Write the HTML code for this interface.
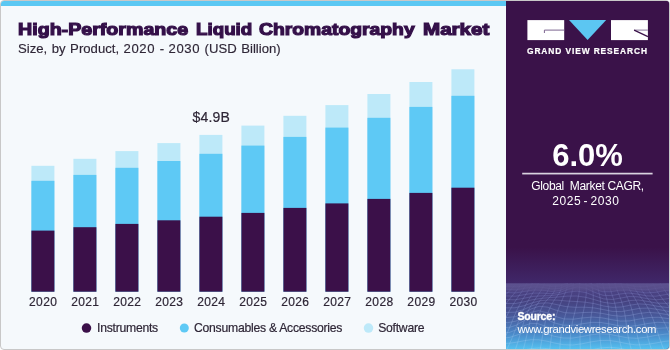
<!DOCTYPE html>
<html><head><meta charset="utf-8">
<style>
html,body{margin:0;padding:0;background:#fff;}
body{width:670px;height:350px;position:relative;overflow:hidden;font-family:"Liberation Sans",sans-serif;-webkit-font-smoothing:antialiased;}
.wrap{position:absolute;left:0;top:0;width:670px;height:350px;will-change:transform;}
.frame{position:absolute;left:0;top:0;width:668px;height:348px;border:1px solid #c8c8c8;border-radius:4px;background:#f5f9fc;overflow:hidden;}
.topbar{position:absolute;left:0;top:0;width:505px;height:5px;background:#5bc8f3;}
.title{position:absolute;left:16.8px;top:18.3px;font-weight:bold;font-size:17.4px;color:#341049;white-space:nowrap;transform-origin:0 0;transform:scaleX(1.1);-webkit-text-stroke:1.2px #341049;letter-spacing:0px;}
.sub{position:absolute;left:16.8px;top:40px;font-size:13.7px;transform:scaleX(0.96);word-spacing:0.9px;color:#2e2636;-webkit-text-stroke:0.15px #2e2636;white-space:nowrap;transform-origin:0 0;}
svg{position:absolute;left:-1px;top:-1px;}
.panel{position:absolute;left:505px;top:0;width:163px;height:348px;background:#3a1249;overflow:hidden;}
.gvr{position:absolute;left:21px;top:45px;font-weight:bold;font-size:8.4px;color:#fff;white-space:nowrap;letter-spacing:0.9px;-webkit-text-stroke:0.2px #fff;}
.big{position:absolute;left:0;width:163px;text-align:center;top:136.5px;font-weight:bold;font-size:31px;color:#fff;}
.hr{position:absolute;left:16px;top:172px;width:131px;height:2px;background:#d9d2df;}
.cagr{position:absolute;left:0;width:163px;text-align:center;top:178px;font-size:12px;line-height:14.6px;color:#fff;}
.c1{letter-spacing:-0.35px;}
.c2{letter-spacing:0.6px;word-spacing:-1.6px;position:relative;left:-1.6px;}
.src{position:absolute;left:11.5px;top:309.2px;font-size:11.3px;line-height:12.6px;color:#fff;white-space:nowrap;letter-spacing:-0.33px;}
.src b{font-size:10.5px;letter-spacing:-0.2px;-webkit-text-stroke:0.35px #fff;}
.ch text{stroke:#2e2636;stroke-width:0.2px;}
.dg{letter-spacing:0.6px;}
</style></head><body><div class="wrap">
<div class="frame">
<div class="topbar"></div>
<div class="title" style="left:16.9px;transform:scaleX(1.129)">High-Performance</div><div class="title" style="left:194.5px;transform:scaleX(1.079)">Liquid</div><div class="title" style="left:257.5px;transform:scaleX(1.111)">Chromatography</div><div class="title" style="left:421.5px;transform:scaleX(1.184)">Market</div>
<div class="sub">Size, by Product, <span class="dg">2020</span> - <span class="dg">2030</span> (USD Billion)</div>
<div class="panel">
<svg width="163" height="348" viewBox="506 1 163 348" style="position:absolute;left:0;top:0">
<defs>
<linearGradient id="pg" x1="0" y1="0" x2="0" y2="1"><stop offset="0" stop-color="#3a1249"/><stop offset="0.87" stop-color="#3a1249"/><stop offset="1" stop-color="#40286a"/></linearGradient>
<linearGradient id="gg" gradientUnits="userSpaceOnUse" x1="0" y1="283.5" x2="0" y2="349"><stop offset="0" stop-color="#554a86"/><stop offset="0.13" stop-color="#4a4283"/><stop offset="0.25" stop-color="#45407e"/><stop offset="0.5" stop-color="#48599a"/><stop offset="0.75" stop-color="#4a86c6"/><stop offset="1" stop-color="#54c0f0"/></linearGradient>
<clipPath id="gc"><rect x="506" y="283.2" width="163" height="67"/></clipPath>
<linearGradient id="lg" gradientUnits="userSpaceOnUse" x1="0" y1="283" x2="0" y2="349"><stop offset="0" stop-color="#8a8ad0" stop-opacity="0.28"/><stop offset="0.3" stop-color="#8a94d4" stop-opacity="0.45"/><stop offset="1" stop-color="#a8daf8" stop-opacity="0.42"/></linearGradient>
<linearGradient id="hb" x1="0" y1="0" x2="0" y2="1"><stop offset="0" stop-color="#5d5290" stop-opacity="0.95"/><stop offset="0.6" stop-color="#5a508c" stop-opacity="0.7"/><stop offset="1" stop-color="#5a508c" stop-opacity="0"/></linearGradient>
</defs>
<rect x="506" y="1" width="163" height="283" fill="url(#pg)"/>
<rect x="506" y="283.5" width="163" height="67" fill="url(#gg)"/>
<path clip-path="url(#gc)" d="M484.4 353.6L493.0 355.8L501.2 358.5L509.1 360.4L516.6 360.6L524.1 359.3L531.8 357.4L539.7 356.2L547.9 356.4L556.5 357.8L565.3 359.4L574.3 360.3L583.3 359.9L592.3 358.4L601.2 356.5L610.1 355.2L618.8 355.3L627.5 356.7L636.2 358.6L644.8 360.0L653.8 360.2L663.8 359.1L674.2 357.2L685.0 355.6L696.1 355.1 M484.8 347.5L493.5 348.6L501.8 350.0L509.5 350.9L516.9 350.9L524.2 349.9L531.5 348.6L539.1 348.0L547.2 348.6L555.6 350.2L564.4 351.8L573.4 352.4L582.5 351.6L591.6 349.8L600.6 348.0L609.5 347.3L618.4 348.1L627.2 349.9L635.9 351.6L644.7 352.3L654.1 351.6L664.4 349.8L674.9 348.1L685.8 347.3L697.1 348.1 M484.7 341.9L493.5 342.9L501.9 343.5L509.7 343.2L517.1 342.1L524.2 340.7L531.3 339.7L538.7 339.8L546.5 341.1L554.9 343.1L563.6 344.7L572.7 345.0L581.9 343.8L591.1 341.9L600.2 340.5L609.3 340.4L618.2 341.8L627.1 343.7L636.1 344.9L645.0 344.7L654.8 343.2L665.2 341.3L675.9 340.3L686.9 340.7L698.2 342.4 M484.2 335.9L493.1 337.3L501.6 338.2L509.6 337.4L517.0 335.0L524.1 332.5L531.1 331.1L538.3 331.6L546.0 333.7L554.3 336.3L563.2 338.0L572.3 338.1L581.6 336.6L591.0 334.8L600.2 333.8L609.4 334.3L618.4 336.1L627.5 337.8L636.5 338.3L645.6 337.3L655.8 335.4L666.2 334.0L677.0 334.0L688.0 335.4L699.3 337.3 M483.3 329.6L492.4 331.3L501.0 332.9L509.2 332.5L516.7 329.6L523.9 325.8L530.9 323.3L538.2 323.7L545.9 326.4L554.2 329.6L563.0 331.6L572.3 331.5L581.7 330.0L591.1 328.3L600.5 327.8L609.8 329.0L619.0 330.8L628.1 332.1L637.2 331.8L646.6 330.1L656.8 328.4L667.2 327.8L677.9 328.9L688.9 330.7L700.1 332.1 M482.3 323.4L491.4 325.1L500.1 327.3L508.5 327.7L516.3 325.2L523.7 320.8L530.9 317.1L538.3 316.5L546.0 319.2L554.4 322.9L563.3 325.2L572.6 325.3L582.1 323.8L591.7 322.4L601.1 322.5L610.4 324.1L619.7 325.9L628.8 326.5L637.9 325.4L647.5 323.5L657.6 322.3L668.0 322.8L678.6 324.5L689.4 326.1L700.5 326.4 M481.3 317.8L490.3 319.1L499.1 321.4L507.7 322.7L515.9 321.1L523.6 316.8L531.0 312.4L538.6 310.7L546.5 312.6L554.9 316.3L563.9 318.9L573.3 319.2L582.8 317.9L592.4 317.1L601.9 317.8L611.2 319.6L620.4 321.1L629.5 320.9L638.5 319.2L648.2 317.6L658.2 317.3L668.4 318.6L678.9 320.4L689.5 321.2L700.3 320.2 M480.3 312.7L489.3 313.6L498.2 315.8L507.0 317.5L515.4 316.7L523.5 313.3L531.3 308.9L539.1 306.3L547.2 307.1L555.8 310.1L564.8 312.7L574.2 313.2L583.7 312.5L593.3 312.3L602.7 313.5L611.9 315.4L621.0 316.3L630.0 315.4L638.9 313.5L648.6 312.4L658.4 313.1L668.4 314.9L678.6 316.2L689.0 315.9L699.7 314.1 M479.6 308.3L488.5 308.7L497.4 310.6L506.4 312.5L515.1 312.2L523.5 309.6L531.7 305.9L539.8 303.2L548.1 302.9L556.8 304.6L565.8 306.6L575.2 307.3L584.6 307.2L594.0 307.9L603.3 309.6L612.4 311.4L621.4 311.6L630.2 310.1L639.1 308.4L648.5 308.1L658.2 309.5L668.0 311.3L678.0 311.7L688.2 310.3L698.7 308.5 M479.0 304.2L487.9 304.2L496.9 306.0L506.0 307.8L514.9 307.8L523.6 305.8L532.1 302.9L540.5 300.7L549.0 299.9L557.8 300.2L566.8 301.0L576.1 301.5L585.4 302.2L594.6 303.7L603.7 306.0L612.6 307.4L621.4 307.0L630.1 305.2L638.9 303.9L648.2 304.5L657.6 306.3L667.3 307.5L677.1 306.8L687.2 305.0L697.6 303.9 M478.7 300.5L487.6 300.2L496.7 301.7L505.9 303.5L515.0 303.6L523.9 301.9L532.6 299.7L541.3 298.4L549.9 297.6L558.7 296.9L567.7 296.1L576.8 296.0L585.9 297.3L594.9 299.8L603.8 302.4L612.5 303.5L621.1 302.4L629.6 300.6L638.4 300.0L647.5 301.4L656.8 303.1L666.4 303.4L676.2 301.9L686.3 300.2L696.7 300.3 M478.7 297.1L487.7 296.4L496.8 297.8L506.0 299.6L515.2 299.8L524.3 298.2L533.2 296.4L541.9 295.8L550.7 295.7L559.4 294.4L568.3 292.1L577.2 291.1L586.1 292.7L594.9 296.0L603.6 298.9L612.1 299.5L620.6 298.1L629.0 296.5L637.7 296.8L646.8 298.6L656.1 299.8L665.6 299.0L675.5 297.2L685.6 296.4L696.0 297.6 M478.8 293.9L487.9 293.0L497.1 294.1L506.3 295.9L515.5 296.2L524.7 294.6L533.6 293.1L542.5 293.1L551.2 293.7L559.9 292.4L568.6 289.1L577.3 286.9L586.0 288.3L594.6 292.3L603.1 295.3L611.5 295.6L619.9 294.0L628.2 293.0L637.0 294.0L646.1 295.8L655.5 296.2L665.1 294.7L675.0 293.1L685.2 293.4L695.7 295.2 M479.2 290.9L488.3 289.8L497.5 290.7L506.7 292.5L515.9 292.9L525.0 291.3L534.0 289.9L542.7 290.2L551.4 291.4L560.0 290.5L568.5 286.8L577.1 283.6L585.6 284.5L594.0 288.5L602.4 291.7L610.8 291.7L619.2 290.2L627.6 289.9L636.6 291.5L645.8 292.9L655.2 292.4L664.9 290.5L674.9 289.8L685.1 291.1L695.6 292.8 M479.6 288.1L488.8 286.8L498.0 287.5L507.2 289.3L516.3 289.8L525.3 288.2L534.1 286.8L542.8 287.4L551.3 288.9L559.8 288.4L568.2 284.8L576.6 281.1L585.0 281.2L593.4 284.9L601.8 287.9L610.2 287.8L618.7 286.7L627.3 287.3L636.4 289.1L645.7 289.8L655.3 288.5L665.1 286.9L675.0 287.2L685.2 289.0L695.6 289.9 M480.2 285.5L489.3 284.0L498.5 284.5L507.5 286.3L516.5 286.8L525.3 285.3L534.0 283.9L542.6 284.6L551.0 286.3L559.4 286.1L567.7 282.9L576.0 279.2L584.4 278.7L592.8 281.5L601.3 284.0L609.8 284.0L618.5 283.7L627.3 284.9L636.6 286.7L646.0 286.6L655.6 284.8L665.4 283.9L675.3 285.1L685.3 286.8L695.4 286.5 M399.1 359.3L408.5 351.7L417.2 344.9L425.1 338.7L432.1 333.0L438.4 327.7L443.9 322.8L448.7 318.1L453.0 313.7L456.9 309.4L460.7 305.2L464.4 301.2L468.1 297.4L472.0 293.7L475.8 290.1L479.6 286.7L483.3 283.5 M410.3 361.4L419.2 353.9L427.4 347.0L434.8 340.6L441.4 334.6L447.1 328.9L452.2 323.5L456.6 318.4L460.5 313.5L464.2 308.8L467.8 304.3L471.4 300.0L475.0 296.0L478.8 292.2L482.5 288.7L486.2 285.5L489.6 282.5 M421.6 363.4L430.1 355.7L437.8 348.3L444.7 341.4L450.7 334.8L455.9 328.6L460.5 322.8L464.5 317.3L468.2 312.1L471.6 307.2L475.0 302.7L478.5 298.6L482.0 294.7L485.6 291.2L489.2 288.1L492.7 285.2L495.9 282.5 M433.0 363.8L441.1 355.7L448.3 347.9L454.6 340.6L460.1 333.7L464.8 327.2L468.9 321.2L472.6 315.6L475.9 310.6L479.1 306.0L482.3 301.8L485.7 298.0L489.1 294.5L492.6 291.4L496.0 288.6L499.2 286.0L502.2 283.6 M444.6 361.8L452.2 353.9L458.8 346.3L464.6 339.0L469.6 332.2L473.8 325.9L477.5 320.1L480.7 314.9L483.7 310.2L486.7 306.0L489.8 302.2L492.9 298.7L496.2 295.6L499.5 292.6L502.7 289.9L505.7 287.3L508.4 284.9 M456.2 358.5L463.3 351.5L469.4 344.7L474.7 338.2L479.1 331.9L482.8 326.1L486.1 320.7L488.9 315.8L491.7 311.4L494.4 307.3L497.3 303.7L500.3 300.2L503.4 297.0L506.5 294.0L509.4 291.1L512.2 288.2L514.6 285.4 M467.8 355.8L474.3 349.9L479.9 344.2L484.6 338.7L488.5 333.2L491.8 327.9L494.6 322.7L497.1 317.9L499.6 313.4L502.1 309.1L504.8 305.2L507.6 301.5L510.5 297.9L513.4 294.5L516.1 291.1L518.6 287.9L520.6 284.8 M479.0 355.8L484.9 350.1L490.0 344.9L494.1 339.9L497.6 334.9L500.4 329.8L502.9 324.7L505.1 319.6L507.4 314.7L509.8 310.1L512.3 305.7L515.0 301.5L517.7 297.5L520.3 293.7L522.8 290.1L524.9 286.7L526.7 283.5 M489.8 358.7L495.0 351.9L499.5 346.0L503.1 340.5L506.1 335.2L508.6 329.9L510.8 324.7L512.9 319.4L515.0 314.3L517.3 309.3L519.7 304.6L522.2 300.2L524.8 296.1L527.2 292.3L529.3 288.7L531.2 285.5L532.6 282.5 M500.0 362.7L504.5 354.2L508.3 346.4L511.5 339.4L514.0 333.1L516.3 327.3L518.3 321.8L520.3 316.7L522.4 311.8L524.6 307.1L527.0 302.7L529.4 298.6L531.7 294.8L533.9 291.3L535.8 288.1L537.4 285.2L538.5 282.6 M509.6 365.1L513.5 355.2L516.6 345.9L519.3 337.3L521.5 329.6L523.5 323.0L525.4 317.3L527.4 312.5L529.5 308.2L531.7 304.3L534.1 300.8L536.4 297.4L538.6 294.2L540.6 291.3L542.2 288.5L543.5 286.0L544.4 283.6 M519.0 364.6L522.1 354.4L524.6 344.6L526.8 335.4L528.7 327.0L530.5 319.8L532.4 313.8L534.4 309.0L536.5 305.2L538.8 302.1L541.1 299.4L543.4 296.9L545.4 294.5L547.2 292.1L548.5 289.6L549.5 287.2L550.2 284.8 M528.5 362.2L530.8 352.7L532.7 343.5L534.4 334.9L536.0 326.8L537.7 319.5L539.5 313.2L541.5 308.1L543.7 304.1L546.0 301.1L548.3 298.7L550.4 296.6L552.2 294.5L553.7 292.4L554.8 290.1L555.5 287.7L555.9 285.1 M538.2 360.2L539.9 351.6L541.2 343.6L542.5 336.1L543.8 328.9L545.3 322.0L547.0 315.7L549.0 310.1L551.1 305.4L553.4 301.4L555.5 298.3L557.4 295.7L559.0 293.5L560.2 291.3L561.0 289.0L561.5 286.6L561.7 284.0 M548.4 360.1L549.4 352.3L550.3 345.2L551.2 338.4L552.2 331.9L553.5 325.6L555.1 319.4L556.9 313.4L558.9 307.7L561.0 302.6L562.9 298.1L564.5 294.4L565.8 291.3L566.7 288.6L567.2 286.3L567.4 284.0L567.4 281.7 M559.1 361.8L559.5 354.2L559.9 347.2L560.4 340.5L561.2 334.2L562.2 327.9L563.6 321.7L565.2 315.6L567.0 309.5L568.8 303.6L570.4 298.2L571.7 293.3L572.7 289.2L573.2 285.9L573.4 283.2L573.4 281.1L573.2 279.2 M570.0 363.6L570.0 355.7L570.0 348.2L570.1 341.2L570.6 334.5L571.4 328.1L572.5 321.9L573.9 315.9L575.4 309.9L576.8 304.1L578.0 298.5L579.0 293.3L579.5 288.7L579.7 284.8L579.6 281.7L579.3 279.4L579.0 277.7 M581.1 364.1L580.6 355.5L580.2 347.5L580.0 340.1L580.2 333.1L580.7 326.7L581.6 320.6L582.6 314.9L583.8 309.6L584.8 304.4L585.6 299.5L586.2 294.7L586.3 290.3L586.2 286.2L585.8 282.7L585.3 279.9L584.8 277.7 M592.1 362.6L591.2 353.7L590.5 345.5L590.0 338.1L589.9 331.3L590.1 325.1L590.7 319.5L591.4 314.3L592.2 309.6L592.8 305.3L593.2 301.1L593.3 297.1L593.1 293.2L592.6 289.3L591.9 285.6L591.2 282.2L590.7 279.1 M603.1 360.2L601.7 351.5L600.6 343.7L599.9 336.7L599.5 330.4L599.5 324.7L599.7 319.6L600.1 315.0L600.5 310.8L600.7 306.9L600.7 303.2L600.3 299.6L599.7 295.9L598.9 292.2L598.1 288.5L597.2 284.6L596.6 280.9 M613.8 358.8L612.1 350.7L610.7 343.5L609.6 337.0L609.0 331.2L608.7 325.9L608.6 321.1L608.7 316.7L608.7 312.5L608.5 308.6L608.0 304.8L607.3 301.1L606.4 297.4L605.3 293.7L604.2 289.8L603.2 285.9L602.5 281.9 M624.5 359.4L622.4 351.8L620.6 345.0L619.3 338.8L618.4 333.1L617.8 327.8L617.5 322.8L617.1 318.2L616.7 313.7L616.1 309.4L615.3 305.2L614.2 301.1L612.9 297.2L611.6 293.3L610.4 289.5L609.3 285.8L608.5 282.0 M635.1 361.5L632.6 354.0L630.6 347.1L629.0 340.6L627.8 334.6L626.9 328.9L626.2 323.5L625.5 318.3L624.7 313.4L623.7 308.7L622.4 304.2L621.0 299.9L619.5 295.9L617.9 292.1L616.5 288.5L615.4 285.1L614.6 281.9 M645.7 363.6L642.8 355.6L640.5 348.2L638.6 341.2L637.1 334.6L635.9 328.4L634.8 322.6L633.8 317.1L632.5 311.9L631.1 307.1L629.5 302.6L627.8 298.5L626.0 294.7L624.3 291.2L622.7 288.0L621.5 285.1L620.7 282.4 M656.8 364.0L653.5 355.4L650.8 347.5L648.5 340.0L646.7 333.1L645.2 326.7L643.7 320.8L642.2 315.4L640.5 310.4L638.7 305.8L636.7 301.7L634.6 298.0L632.6 294.6L630.7 291.5L629.1 288.6L627.8 286.0L626.9 283.6 M669.3 362.5L665.4 353.6L662.2 345.5L659.5 338.0L657.2 331.2L655.2 325.1L653.2 319.5L651.1 314.5L649.0 309.9L646.7 305.8L644.3 302.1L641.8 298.7L639.5 295.6L637.5 292.7L635.7 290.0L634.3 287.4L633.3 284.9 M682.2 360.2L677.8 351.5L674.0 343.7L670.8 336.7L668.0 330.4L665.4 324.7L662.9 319.7L660.3 315.1L657.6 310.9L654.8 307.1L652.0 303.5L649.2 300.2L646.6 297.1L644.3 294.0L642.4 291.1L640.9 288.2L639.8 285.4 M695.7 358.8L690.7 350.7L686.3 343.5L682.5 337.0L679.1 331.2L675.9 326.0L672.8 321.2L669.6 316.7L666.3 312.6L663.1 308.7L659.8 304.9L656.7 301.3L653.9 297.8L651.4 294.4L649.3 291.1L647.7 287.8L646.4 284.7 M709.7 359.4L704.0 351.8L699.0 345.0L694.6 338.8L690.5 333.1L686.7 327.8L682.9 322.9L679.1 318.2L675.2 313.7L671.5 309.4L667.8 305.2L664.3 301.2L661.3 297.3L658.6 293.6L656.3 290.0L654.5 286.6L653.0 283.4 M724.2 361.6L717.8 354.0L712.1 347.1L706.9 340.7L702.2 334.6L697.6 328.9L693.1 323.5L688.7 318.3L684.3 313.4L680.0 308.7L675.9 304.2L672.2 299.9L668.8 295.9L665.9 292.1L663.5 288.6L661.5 285.4L659.7 282.5 M739.3 363.6L732.0 355.6L725.5 348.2L719.6 341.2L714.1 334.6L708.8 328.4L703.6 322.6L698.5 317.1L693.5 311.9L688.7 307.1L684.2 302.6L680.1 298.5L676.5 294.7L673.4 291.2L670.8 288.1L668.5 285.2L666.5 282.6 M754.9 364.0L746.7 355.4L739.4 347.4L732.6 340.0L726.3 333.1L720.2 326.7L714.3 320.8L708.5 315.4L702.9 310.4L697.6 305.8L692.7 301.7L688.3 298.0L684.4 294.6L681.1 291.5L678.2 288.7L675.6 286.1L673.3 283.7 M770.9 362.5L761.8 353.6L753.6 345.4L746.0 338.0L738.8 331.2L731.8 325.1L725.1 319.5L718.7 314.5L712.5 309.9L706.7 305.8L701.4 302.1L696.7 298.7L692.5 295.6L688.9 292.7L685.7 290.0L682.8 287.4L680.1 284.9 M787.5 360.2L777.4 351.5L768.2 343.7L759.6 336.7L751.5 330.4L743.7 324.7L736.2 319.7L729.0 315.1L722.3 310.9L716.0 307.1L710.3 303.6L705.2 300.3L700.7 297.1L696.8 294.0L693.3 291.1L690.0 288.2L686.9 285.4" stroke="url(#lg)" stroke-opacity="1" stroke-width="0.7" fill="none"/>
<rect x="506" y="283.5" width="163" height="9" fill="url(#hb)"/>

<rect x="527.4" y="20.1" width="36.8" height="20" fill="#ffffff"/>
<path d="M544.4 33 V30.1 H564.2" stroke="#7d6590" stroke-width="1" fill="none"/>
<path d="M569 20.1 H606.2 L587.6 40.1 Z" fill="#5cc6f2"/>
<rect x="611" y="20.1" width="36.9" height="20" fill="#ffffff"/>
<path d="M634.1 30.1 H647.9" stroke="#8c7a9c" stroke-width="1" fill="none"/>
<path d="M634.1 30.1 L647.9 36.6" stroke="#3a1249" stroke-width="1.2" fill="none"/>
<rect x="522.2" y="172.75" width="130.4" height="1.7" fill="#d9d2df"/>
</svg>
<div class="gvr">GRAND VIEW RESEARCH</div>
<div class="big">6.0%</div>
<div class="cagr"><span class="c1">Global&nbsp; Market CAGR,</span><br><span class="c2">2025 - 2030</span></div>
<div class="src"><b>Source:</b><br>www.grandviewresearch.com</div>
</div>
</div>
<svg class="ch" width="670" height="350" viewBox="0 0 670 350" style="left:0;top:0" font-family="Liberation Sans" font-size="12" fill="#2e2636">
<rect x="31.40" y="165.8" width="23.0" height="125.90" fill="#bde9f9"/>
<rect x="31.40" y="180.8" width="23.0" height="110.90" fill="#5ec9f5"/>
<rect x="31.40" y="230.6" width="23.0" height="61.10" fill="#3b1049"/>
<rect x="73.40" y="158.8" width="23.0" height="132.90" fill="#bde9f9"/>
<rect x="73.40" y="174.9" width="23.0" height="116.80" fill="#5ec9f5"/>
<rect x="73.40" y="227.2" width="23.0" height="64.50" fill="#3b1049"/>
<rect x="115.40" y="151.1" width="23.0" height="140.60" fill="#bde9f9"/>
<rect x="115.40" y="167.8" width="23.0" height="123.90" fill="#5ec9f5"/>
<rect x="115.40" y="223.9" width="23.0" height="67.80" fill="#3b1049"/>
<rect x="157.40" y="143.1" width="23.0" height="148.60" fill="#bde9f9"/>
<rect x="157.40" y="161.0" width="23.0" height="130.70" fill="#5ec9f5"/>
<rect x="157.40" y="220.3" width="23.0" height="71.40" fill="#3b1049"/>
<rect x="199.40" y="134.9" width="23.0" height="156.80" fill="#bde9f9"/>
<rect x="199.40" y="153.8" width="23.0" height="137.90" fill="#5ec9f5"/>
<rect x="199.40" y="216.7" width="23.0" height="75.00" fill="#3b1049"/>
<rect x="241.40" y="125.6" width="23.0" height="166.10" fill="#bde9f9"/>
<rect x="241.40" y="145.6" width="23.0" height="146.10" fill="#5ec9f5"/>
<rect x="241.40" y="212.9" width="23.0" height="78.80" fill="#3b1049"/>
<rect x="283.40" y="115.8" width="23.0" height="175.90" fill="#bde9f9"/>
<rect x="283.40" y="136.9" width="23.0" height="154.80" fill="#5ec9f5"/>
<rect x="283.40" y="207.9" width="23.0" height="83.80" fill="#3b1049"/>
<rect x="325.40" y="105.1" width="23.0" height="186.60" fill="#bde9f9"/>
<rect x="325.40" y="127.6" width="23.0" height="164.10" fill="#5ec9f5"/>
<rect x="325.40" y="203.4" width="23.0" height="88.30" fill="#3b1049"/>
<rect x="367.40" y="94.0" width="23.0" height="197.70" fill="#bde9f9"/>
<rect x="367.40" y="117.8" width="23.0" height="173.90" fill="#5ec9f5"/>
<rect x="367.40" y="198.9" width="23.0" height="92.80" fill="#3b1049"/>
<rect x="409.40" y="82.0" width="23.0" height="209.70" fill="#bde9f9"/>
<rect x="409.40" y="106.9" width="23.0" height="184.80" fill="#5ec9f5"/>
<rect x="409.40" y="192.9" width="23.0" height="98.80" fill="#3b1049"/>
<rect x="451.40" y="69.3" width="23.0" height="222.40" fill="#bde9f9"/>
<rect x="451.40" y="95.8" width="23.0" height="195.90" fill="#5ec9f5"/>
<rect x="451.40" y="187.7" width="23.0" height="104.00" fill="#3b1049"/>
<text x="43.15" y="305.6" text-anchor="middle" letter-spacing="0.35">2020</text>
<text x="85.18" y="305.6" text-anchor="middle" letter-spacing="0.35">2021</text>
<text x="127.21" y="305.6" text-anchor="middle" letter-spacing="0.35">2022</text>
<text x="169.24" y="305.6" text-anchor="middle" letter-spacing="0.35">2023</text>
<text x="211.27" y="305.6" text-anchor="middle" letter-spacing="0.35">2024</text>
<text x="253.30" y="305.6" text-anchor="middle" letter-spacing="0.35">2025</text>
<text x="295.33" y="305.6" text-anchor="middle" letter-spacing="0.35">2026</text>
<text x="337.36" y="305.6" text-anchor="middle" letter-spacing="0.35">2027</text>
<text x="379.39" y="305.6" text-anchor="middle" letter-spacing="0.35">2028</text>
<text x="421.42" y="305.6" text-anchor="middle" letter-spacing="0.35">2029</text>
<text x="463.45" y="305.6" text-anchor="middle" letter-spacing="0.35">2030</text>
<text x="211.3" y="122" text-anchor="middle" font-size="14" letter-spacing="0.2">$4.9B</text>
<circle cx="86.5" cy="328.05" r="4.75" fill="#3b1049"/>
<circle cx="184.3" cy="328.05" r="4.5" fill="#5ec9f5"/>
<circle cx="368.5" cy="328.05" r="4.75" fill="#bde9f9"/>
<g font-size="12.2" letter-spacing="-0.25">
<text x="97" y="332">Instruments</text>
<text x="194" y="332">Consumables &amp; Accessories</text>
<text x="378.2" y="332">Software</text>
</g>
</svg>
</div></body></html>
